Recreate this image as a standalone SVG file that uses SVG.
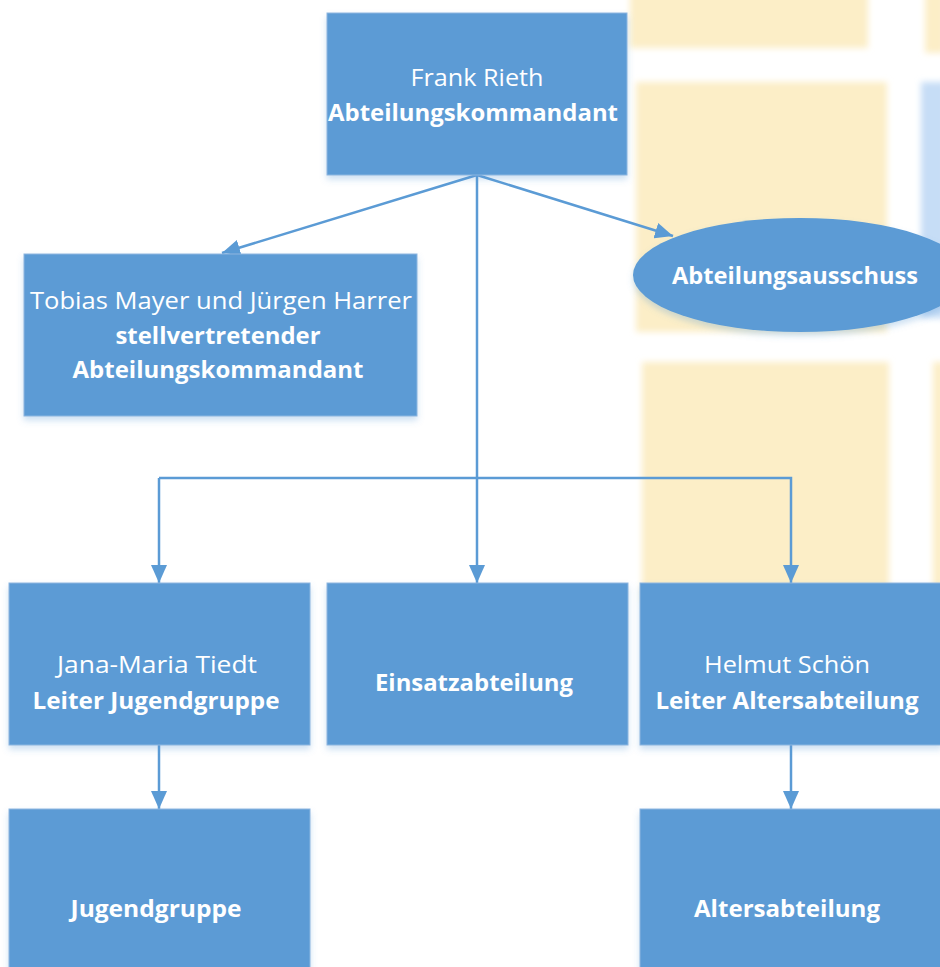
<svg xmlns="http://www.w3.org/2000/svg" width="940" height="967" viewBox="0 0 940 967">
<defs>
<filter id="blur" x="-10%" y="-10%" width="120%" height="120%"><feGaussianBlur stdDeviation="3"/></filter>
<filter id="shadow" x="-5%" y="-5%" width="110%" height="125%"><feDropShadow dx="0" dy="4" stdDeviation="3" flood-color="#5B9BD5" flood-opacity="0.3"/></filter>
<marker id="arrow" viewBox="0 0 18 16" refX="18" refY="8" markerWidth="18" markerHeight="16" markerUnits="userSpaceOnUse" orient="auto">
<path d="M0,0 L18,8 L0,16 Z" fill="#5B9BD5"/>
</marker>
</defs>
<style>
.box{fill:#5B9BD5;stroke:#8DB6E0;stroke-width:1;filter:url(#shadow)}
.t{font-family:"Open Sans","Noto Sans",sans-serif;font-size:23px;fill:#ffffff;text-anchor:middle}
.b{font-weight:bold}
.c{fill:none;stroke:#5B9BD5;stroke-width:2.5}
.y{fill:#FCEEC7}
.lb{fill:#C6DDF6}
</style>
<rect width="940" height="967" fill="#ffffff"/>
<g id="background" filter="url(#blur)">
<rect class="y" x="630" y="-10" width="238" height="58"/>
<rect class="y" x="925" y="-10" width="20" height="63"/>
<rect class="y" x="636" y="82" width="251" height="250"/>
<rect class="lb" x="921" y="82" width="25" height="236"/>
<rect class="y" x="642" y="362" width="247" height="240"/>
<rect class="y" x="933" y="362" width="12" height="240"/>
</g>
<g id="connectors">
<path class="c" d="M477,175 L222,253" marker-end="url(#arrow)"/>
<path class="c" d="M477,175 L673,236" marker-end="url(#arrow)"/>
<path class="c" d="M477,175 L477,583" marker-end="url(#arrow)"/>
<path class="c" d="M159,478 L791,478 L791,583" marker-end="url(#arrow)"/>
<path class="c" d="M159,478 L159,583" marker-end="url(#arrow)"/>
<path class="c" d="M159,745 L159,809" marker-end="url(#arrow)"/>
<path class="c" d="M791,745 L791,809" marker-end="url(#arrow)"/>
</g>
<g id="node-frank">
<rect class="box" x="327" y="13" width="300" height="162"/>
<text class="t" x="477" y="86" textLength="133" lengthAdjust="spacingAndGlyphs">Frank Rieth</text>
<text class="t b" x="473" y="121" textLength="290" lengthAdjust="spacingAndGlyphs">Abteilungskommandant</text>
</g>
<g id="node-stellv">
<rect class="box" x="24" y="254" width="393" height="162"/>
<text class="t" x="221" y="309" textLength="382" lengthAdjust="spacingAndGlyphs">Tobias Mayer und Jürgen Harrer</text>
<text class="t b" x="218" y="344" textLength="205" lengthAdjust="spacingAndGlyphs">stellvertretender</text>
<text class="t b" x="218" y="378" textLength="291" lengthAdjust="spacingAndGlyphs">Abteilungskommandant</text>
</g>
<g id="node-ausschuss">
<ellipse cx="800" cy="275" rx="167" ry="57" fill="#5B9BD5" filter="url(#shadow)"/>
<text class="t b" x="795" y="284" textLength="246" lengthAdjust="spacingAndGlyphs">Abteilungsausschuss</text>
</g>
<g id="node-jana">
<rect class="box" x="9" y="583" width="301" height="162"/>
<text class="t" x="157" y="673" textLength="200" lengthAdjust="spacingAndGlyphs">Jana-Maria Tiedt</text>
<text class="t b" x="156" y="709" textLength="247" lengthAdjust="spacingAndGlyphs">Leiter Jugendgruppe</text>
</g>
<g id="node-einsatz">
<rect class="box" x="327" y="583" width="301" height="162"/>
<text class="t b" x="474" y="691" textLength="198" lengthAdjust="spacingAndGlyphs">Einsatzabteilung</text>
</g>
<g id="node-helmut">
<rect class="box" x="640" y="583" width="302" height="162"/>
<text class="t" x="787" y="673" textLength="166" lengthAdjust="spacingAndGlyphs">Helmut Schön</text>
<text class="t b" x="787" y="709" textLength="263" lengthAdjust="spacingAndGlyphs">Leiter Altersabteilung</text>
</g>
<g id="node-jugendgruppe">
<rect class="box" x="9" y="809" width="301" height="170"/>
<text class="t b" x="156" y="917" textLength="171" lengthAdjust="spacingAndGlyphs">Jugendgruppe</text>
</g>
<g id="node-altersabteilung">
<rect class="box" x="640" y="809" width="302" height="170"/>
<text class="t b" x="787" y="917" textLength="186" lengthAdjust="spacingAndGlyphs">Altersabteilung</text>
</g>
</svg>
